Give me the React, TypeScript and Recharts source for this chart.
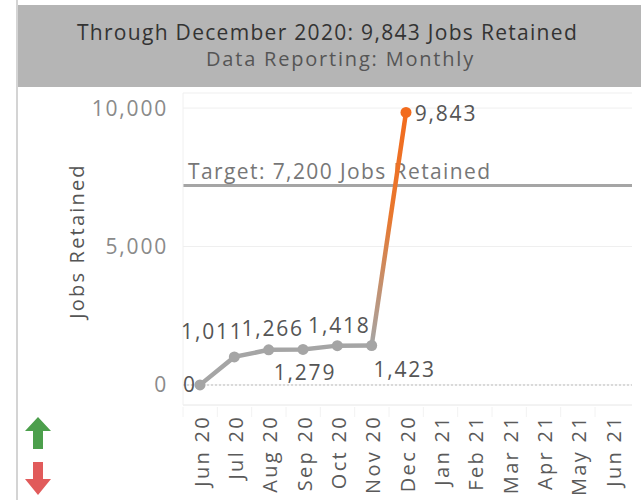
import React from "react";
import {
  CartesianGrid,
  LabelList,
  Line,
  LineChart,
  ReferenceLine,
  XAxis,
  YAxis,
} from "recharts";

const months = [
  "Jun 20", "Jul 20", "Aug 20", "Sep 20", "Oct 20", "Nov 20", "Dec 20",
  "Jan 21", "Feb 21", "Mar 21", "Apr 21", "May 21", "Jun 21",
];
// only Jun 20 – Dec 20 have been reported so far
const jobsRetained = [0, 1011, 1266, 1279, 1418, 1423, 9843];
const targetJobs = 7200;
const yTicks = [0, 5000, 10000];

const title = "Through December 2020: 9,843 Jobs Retained";
const subtitle = "Data Reporting: Monthly";

const font = "'Open Sans', sans-serif";
const grey = "#a5a5a5";
const orange = "#f26b1d";

// label placement around each point (dx, dy)
const labelOffsets = [
  [-10, -1], [-22, -26], [4, -22], [2, 23], [2, -21], [33, 24], [40, 1],
];

const last = jobsRetained.length - 1;
const data = months.map((month, i) => ({
  month,
  base: i < last ? jobsRetained[i] : null,
  latest: i >= last - 1 && i <= last ? jobsRetained[i] : null,
}));

const fmt = (v: number) => v.toLocaleString("en-US");

const PointLabel = (onlyIndex?: number) => (props: any) => {
  const { x, y, value, index } = props;
  if (value == null) return null;
  if (onlyIndex !== undefined && index !== onlyIndex) return null;
  if (onlyIndex === undefined && index >= last) return null;
  const [dx, dy] = labelOffsets[index];
  return (
    <text
      x={x + dx}
      y={y + dy}
      textAnchor="middle"
      dominantBaseline="central"
      fontFamily={font}
      fontSize={21}
      letterSpacing={1.8}
      fill="#555"
    >
      {fmt(value)}
    </text>
  );
};

const MonthTick = (props: any) => {
  const { x, y, payload } = props;
  return (
    <g transform={`translate(${x},${y})`}>
      <line x1={-17} x2={-17} y1={0} y2={10} stroke="#f2f2f2" />
      <text
        transform="rotate(-90)"
        x={-8}
        y={1}
        textAnchor="end"
        dominantBaseline="central"
        fontFamily={font}
        fontSize={20}
        letterSpacing={2.3}
        fill="#5a5a5a"
      >
        {payload.value}
      </text>
    </g>
  );
};

const LatestDot = (props: any) => {
  const { cx, cy, index } = props;
  if (index !== last) return <g key={index} />;
  return <circle key={index} cx={cx} cy={cy} r={5.5} fill={orange} />;
};

export default function App() {
  return (
    <div
      style={{
        position: "absolute",
        left: 0,
        top: 0,
        width: 641,
        height: 500,
        background: "#fff",
        overflow: "hidden",
      }}
    >
      <div
        style={{
          position: "absolute",
          left: 16,
          top: 0,
          width: 2,
          height: 500,
          background: "#d4d4d4",
        }}
      />
      <div
        style={{
          position: "absolute",
          left: 18,
          top: 5,
          width: 623,
          height: 82,
          background: "#b5b5b5",
          fontFamily: font,
          textAlign: "center",
        }}
      >
        <div style={{ marginTop: 14, marginLeft: -4, fontSize: 21, color: "#333", lineHeight: "27px", letterSpacing: 1.3 }}>
          {title}
        </div>
        <div style={{ marginLeft: 22, fontSize: 20, color: "#555", lineHeight: "26px", letterSpacing: 1.8 }}>
          {subtitle}
        </div>
      </div>

      <svg style={{ position: "absolute", left: 24, top: 416 }} width={30} height={82}>
        <polygon points="14,1 27,15 19,15 19,33 9,33 9,15 1,15" fill="#4c9f4c" />
        <polygon points="9,46 19,46 19,63 27,63 14,79 1,63 9,63" fill="#e15b5b" />
      </svg>

      <div style={{ position: "absolute", left: 0, top: 90 }}>
        <LineChart
          width={641}
          height={410}
          data={data}
          margin={{ top: 3, right: 9, left: 0, bottom: 0 }}
        >
          <defs>
            <linearGradient id="jumpGrad" x1="0" y1="0" x2="0" y2="1">
              <stop offset="0%" stopColor={orange} />
              <stop offset="45%" stopColor="#e8782f" />
              <stop offset="100%" stopColor={grey} />
            </linearGradient>
          </defs>
          <CartesianGrid vertical={false} stroke="#efefef" strokeWidth={1} />
          <XAxis
            dataKey="month"
            interval={0}
            padding={{ left: 17, right: 20 }}
            tickLine={false}
            tickSize={0}
            axisLine={{ stroke: "#eeeeee" }}
            height={95}
            tick={<MonthTick />}
          />
          <YAxis
            type="number"
            domain={[-727, 10545]}
            ticks={yTicks}
            tickFormatter={fmt}
            width={183}
            tickLine={false}
            tickSize={0}
            tickMargin={15}
            axisLine={{ stroke: "#f0f0f0" }}
            tick={{ fill: "#8a8a8a", fontSize: 21, fontFamily: font, letterSpacing: 1.8 }}
            label={{
              value: "Jobs Retained",
              angle: -90,
              position: "insideLeft",
              dx: 72,
              dy: -8,
              style: { textAnchor: "middle", fill: "#555", fontSize: 20, fontFamily: font, letterSpacing: 2.2 },
            }}
          />
          <ReferenceLine y={0} stroke="#cfcfcf" strokeDasharray="2 2" strokeWidth={1.5} />
          <ReferenceLine
            y={targetJobs}
            stroke={grey}
            strokeWidth={3}
            label={(p: any) => (
              <text
                x={p.viewBox.x + 5}
                y={p.viewBox.y - 15}
                dominantBaseline="central"
                fontFamily={font}
                fontSize={21}
                letterSpacing={1.4}
                fill="#777"
              >
                Target: {fmt(targetJobs)} Jobs Retained
              </text>
            )}
          />
          <Line
            dataKey="latest"
            stroke="url(#jumpGrad)"
            strokeWidth={4.5}
            dot={<LatestDot />}
            activeDot={false}
            isAnimationActive={false}
          >
            <LabelList dataKey="latest" content={PointLabel(last)} />
          </Line>
          <Line
            dataKey="base"
            stroke={grey}
            strokeWidth={4.5}
            dot={{ r: 5.5, fill: grey, stroke: "none" }}
            activeDot={false}
            isAnimationActive={false}
          >
            <LabelList dataKey="base" content={PointLabel()} />
          </Line>
        </LineChart>
      </div>
    </div>
  );
}
